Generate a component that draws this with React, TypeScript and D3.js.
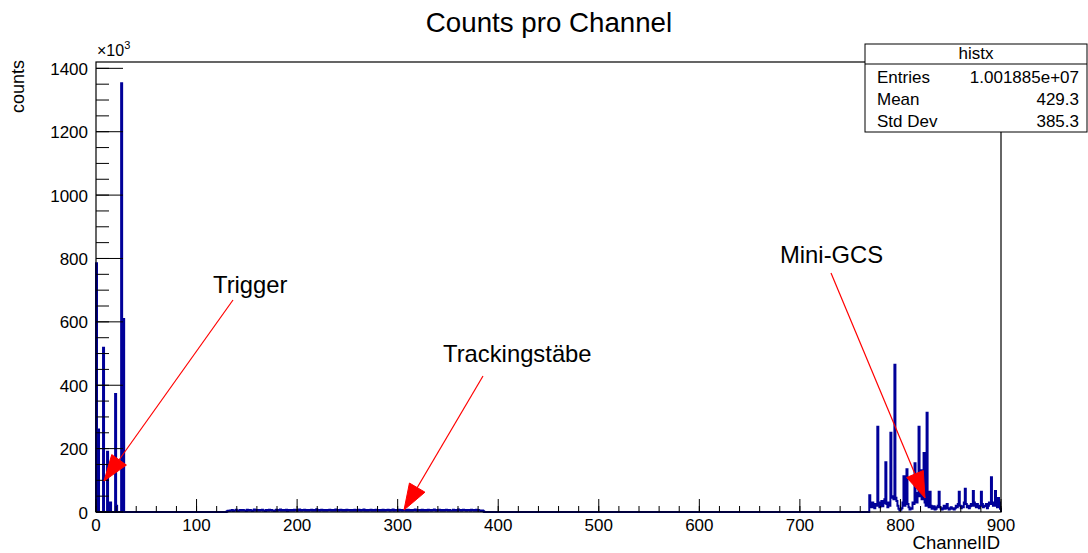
import React from "react";
import * as d3 from "d3";

const W = 1088;
const H = 553;
const NBINS = 900;

// Trigger channels (counts in units of 10^3)
const triggerChannels = [0, 2, 7, 11, 14, 19, 20, 25, 27];
const triggerCounts = [785, 260, 518, 190, 30, 372, 20, 1353, 609];

// Tracking bars: channels 130..385 (counts in 10^3)
const trackingStart = 130;
const trackingCounts = [
  2, 4, 3, 5, 4, 6, 3, 4, 5, 7, 4, 3, 5, 6, 4, 5,
  6, 4, 5, 3, 7, 5, 4, 6, 5, 3, 4, 8, 5, 4, 6, 5,
  4, 6, 5, 7, 4, 5, 3, 6, 5, 4, 7, 5, 6, 4, 5, 3,
  5, 7, 4, 6, 5, 8, 4, 5, 6, 4, 5, 7, 3, 6, 5, 4,
  6, 5, 4, 7, 5, 6, 4, 5, 8, 5, 4, 6, 5, 7, 4, 6,
  5, 4, 6, 5, 7, 4, 6, 5, 4, 9, 5, 6, 4, 5, 7, 5,
  4, 6, 5, 4, 6, 5, 7, 5, 4, 6, 5, 4, 8, 5, 6, 4,
  5, 7, 6, 4, 5, 6, 4, 7, 5, 6, 5, 4, 6, 5, 4, 7,
  6, 4, 5, 7, 5, 4, 6, 5, 8, 4, 6, 5, 4, 6, 5, 7,
  4, 5, 6, 4, 7, 5, 6, 4, 5, 6, 4, 7, 5, 4, 6, 5,
  7, 5, 4, 6, 5, 8, 4, 5, 6, 5, 4, 7, 6, 5, 4, 6,
  5, 6, 4, 5, 7, 4, 6, 5, 4, 6, 5, 8, 5, 4, 6, 5,
  6, 4, 7, 5, 4, 6, 5, 4, 7, 6, 5, 4, 6, 5, 8, 5,
  4, 6, 5, 7, 5, 4, 6, 5, 4, 6, 7, 5, 4, 6, 5, 4,
  5, 7, 4, 6, 5, 4, 8, 5, 6, 4, 5, 7, 5, 6, 4, 5,
  6, 5, 4, 7, 5, 6, 4, 5, 7, 4, 6, 5, 4, 3, 5, 2,
];

// Mini-GCS channels 768..899 (counts in 10^3)
const gcsStart = 768;
const gcsCounts = [
  0, 53, 20, 15, 30, 18, 12, 25, 20, 269, 30, 15, 22, 35, 18, 28,
  40, 157, 25, 15, 30, 20, 250, 45, 50, 40, 465, 45, 35, 20, 10, 5,
  8, 12, 30, 113, 20, 60, 135, 25, 15, 8, 12, 10, 30, 25, 154, 40,
  30, 60, 269, 50, 132, 40, 60, 186, 30, 20, 313, 25, 15, 64, 20, 10,
  12, 18, 8, 10, 15, 20, 64, 15, 10, 8, 12, 20, 10, 15, 25, 12,
  8, 10, 15, 12, 10, 8, 12, 20, 15, 25, 64, 20, 12, 18, 15, 30,
  73, 25, 15, 20, 12, 18, 25, 20, 66, 30, 20, 15, 25, 18, 12, 20,
  64, 25, 15, 20, 18, 25, 12, 20, 30, 25, 110, 30, 20, 25, 66, 20,
  15, 44, 30, 10,
];

const yMajorTicks = [0, 200, 400, 600, 800, 1000, 1200, 1400];
const xMajorTicks = [0, 100, 200, 300, 400, 500, 600, 700, 800, 900];

const statsRows = [
  ["Entries", "1.001885e+07"],
  ["Mean", "429.3"],
  ["Std Dev", "385.3"],
];

const annotations = [
  { label: "Trigger", tx: 213, ty: 293, x1: 233, y1: 300, x2: 104, y2: 481 },
  { label: "Trackingstäbe", tx: 443, ty: 362, x1: 483, y1: 376, x2: 404, y2: 510 },
  { label: "Mini-GCS", tx: 780, ty: 263, x1: 831, y1: 273, x2: 925, y2: 498 },
];

const FONT = "'Liberation Sans', Arial, Helvetica, sans-serif";

function buildBins(): number[] {
  const bins = new Array(NBINS).fill(0);
  triggerChannels.forEach((c, i) => (bins[c] = triggerCounts[i]));
  trackingCounts.forEach((v, i) => (bins[trackingStart + i] = v));
  gcsCounts.forEach((v, i) => (bins[gcsStart + i] = v));
  return bins;
}

export default function App() {
  const left = 96;
  const right = 1001;
  const top = 62;
  const bottom = 512;

  const x = d3.scaleLinear().domain([0, 900]).range([left, right]);
  const y = d3.scaleLinear().domain([0, 1420]).range([bottom, top]);

  const bins = buildBins();
  const pts: [number, number][] = bins.map((v, i) => [x(i), y(v)]);
  pts.push([x(NBINS), y(bins[NBINS - 1])]);
  const line = d3
    .line<[number, number]>()
    .x((d) => d[0])
    .y((d) => d[1])
    .curve(d3.curveStepAfter);
  const histPath = `M${x(0)},${y(0)}L` + (line(pts) || "").slice(1) + `L${x(NBINS)},${y(0)}`;

  const yMinor = d3.range(0, 1420, 50);
  const xMinor = d3.range(0, 901, 20);

  const arrowHead = (x1: number, y1: number, x2: number, y2: number) => {
    const len = 26;
    const hw = 9;
    const dx = x2 - x1;
    const dy = y2 - y1;
    const d = Math.sqrt(dx * dx + dy * dy);
    const ux = dx / d;
    const uy = dy / d;
    const bx = x2 - ux * len;
    const by = y2 - uy * len;
    const px = -uy;
    const py = ux;
    return `M${x2},${y2}L${bx + px * hw},${by + py * hw}L${bx - px * hw},${by - py * hw}Z`;
  };

  return (
    <svg
      width={W}
      height={H}
      style={{ position: "fixed", left: 0, top: 0, background: "#fff" }}
      fontFamily={FONT}
    >
      <rect x={0} y={0} width={W} height={H} fill="#fff" />
      <text x={549} y={32} fontSize={27.7} textAnchor="middle">
        Counts pro Channel
      </text>

      {/* histogram */}
      <path d={histPath} fill="none" stroke="#000099" strokeWidth={2} />

      {/* frame */}
      <rect x={left} y={top} width={right - left} height={bottom - top} fill="none" stroke="#000" strokeWidth={1.2} />

      {/* y ticks */}
      {yMinor.map((v) => (
        <line key={"ym" + v} x1={left} x2={left + 13} y1={y(v)} y2={y(v)} stroke="#000" strokeWidth={1} />
      ))}
      {yMajorTicks.map((v) => (
        <g key={"yM" + v}>
          <line x1={left} x2={left + 27} y1={y(v)} y2={y(v)} stroke="#000" strokeWidth={1} />
          <text x={88} y={y(v) + 1} fontSize={17} textAnchor="end" dominantBaseline="central">
            {v}
          </text>
        </g>
      ))}
      {/* x ticks */}
      {xMinor.map((v) => (
        <line key={"xm" + v} x1={x(v)} x2={x(v)} y1={bottom} y2={bottom - 6} stroke="#000" strokeWidth={1} />
      ))}
      {xMajorTicks.map((v) => (
        <g key={"xM" + v}>
          <line x1={x(v)} x2={x(v)} y1={bottom} y2={bottom - 13} stroke="#000" strokeWidth={1} />
          <text x={x(v)} y={531} fontSize={17} textAnchor="middle">
            {v}
          </text>
        </g>
      ))}

      <text x={97} y={56} fontSize={16}>
        ×10
        <tspan fontSize={11} dy={-7}>3</tspan>
      </text>
      <text x={1000} y={549} fontSize={18.5} textAnchor="end">
        ChannelID
      </text>
      <text transform="translate(24,60) rotate(-90)" fontSize={18} textAnchor="end">
        counts
      </text>

      {/* stats box */}
      <rect x={865} y={44} width={222} height={88} fill="#fff" stroke="#000" strokeWidth={1} />
      <line x1={865} x2={1087} y1={64} y2={64} stroke="#000" strokeWidth={1} />
      <text x={976} y={59} fontSize={17} textAnchor="middle">
        histx
      </text>
      {statsRows.map((r, i) => (
        <g key={r[0]}>
          <text x={877} y={83 + i * 22} fontSize={17}>
            {r[0]}
          </text>
          <text x={1079} y={83 + i * 22} fontSize={17} textAnchor="end">
            {r[1]}
          </text>
        </g>
      ))}

      {/* annotations */}
      {annotations.map((a) => (
        <g key={a.label}>
          <text x={a.tx} y={a.ty} fontSize={23.8}>
            {a.label}
          </text>
          <line x1={a.x1} y1={a.y1} x2={a.x2} y2={a.y2} stroke="#ff0000" strokeWidth={1.2} />
          <path d={arrowHead(a.x1, a.y1, a.x2, a.y2)} fill="#ff0000" stroke="#ff0000" />
        </g>
      ))}
    </svg>
  );
}
